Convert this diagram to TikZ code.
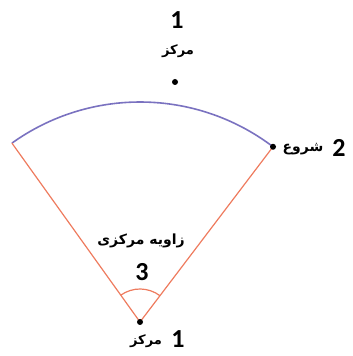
\documentclass[tikz,border=0pt]{standalone}
\usepackage{fontspec}
\usetikzlibrary{calc}
\newfontfamily\arabicfont[Script=Arabic]{DejaVu Sans}
\newfontfamily\numfont{Carlito}
\TeXXeTstate=1
\definecolor{arccol}{HTML}{7A72C0}
\definecolor{radcol}{HTML}{EE7B5E}
\begin{document}
\begin{tikzpicture}[x=1pt,y=1pt,
  num/.style={font=\numfont\bfseries\fontsize{26}{26}\selectfont, inner sep=0pt},
  fa/.style={font=\arabicfont\bfseries\fontsize{13}{13}\selectfont, inner sep=0pt},
  dotn/.style={circle, fill=black, inner sep=0pt, minimum size=6pt},
  radline/.style={draw=radcol, line width=1.2pt},
  arcline/.style={draw=arccol, line width=1.6pt}]
\useasboundingbox (0,0) rectangle (353,356);
\coordinate (O) at (140,34);
\coordinate (A) at ($(O)+(125.6:220)$);
\coordinate (B) at ($(O)+(52.8:220)$);
% sector
\draw[arcline] (A) arc[start angle=125.6, end angle=52.8, radius=220];
\draw[radline] (A) -- (O) -- (B);
\draw[radline] ($(O)+(125.6:33)$) arc[start angle=125.6, end angle=52.8, radius=33];
% dots
\node[dotn] (cdot) at (O) {};
\node[dotn] (bdot) at (B) {};
\node[dotn] (tdot) at (175,274) {};
% labels
\node[num] (t1) at (177,336) {1};
\node[fa] (tc) at (178,305) {\beginR مرکز\endR};
\node[fa, font=\arabicfont\bfseries\fontsize{14}{14}\selectfont] (start) at (303,207) {\beginR شروع\endR};
\node[num] (n2) at (339,208) {2};
\node[fa, font=\arabicfont\bfseries\fontsize{14}{14}\selectfont] (ang) at (141,115) {\beginR زاویه مرکزی\endR};
\node[num] (n3) at (142,84) {3};
\node[fa] (bc) at (146,15) {\beginR مرکز\endR};
\node[num] (b1) at (178,17) {1};
\end{tikzpicture}
\end{document}
